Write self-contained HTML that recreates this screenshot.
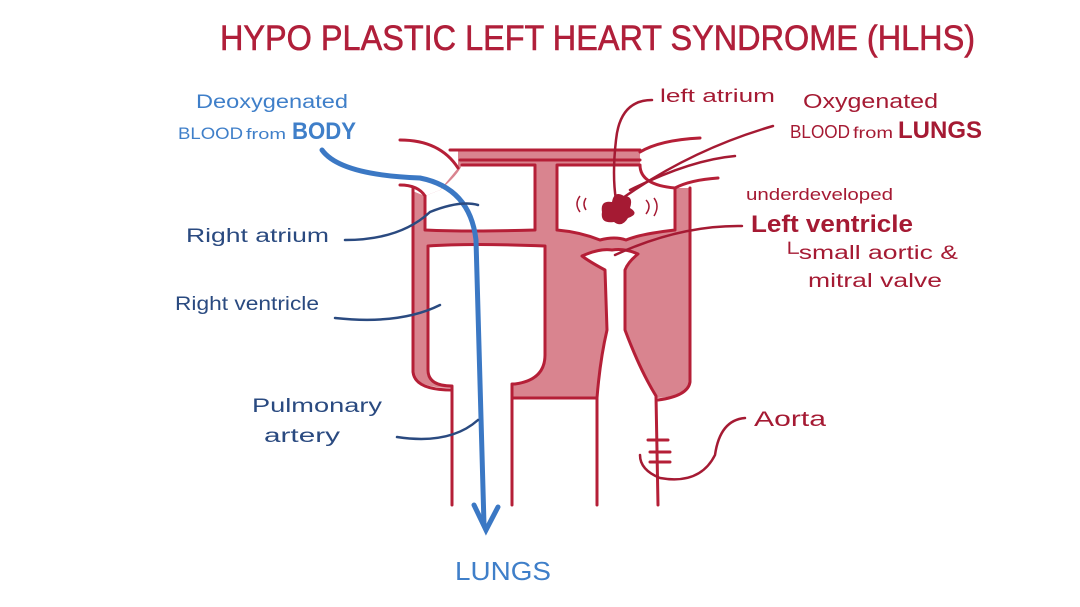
<!DOCTYPE html>
<html><head><meta charset="utf-8"><style>
html,body{margin:0;padding:0;background:#fff;}
svg{display:block;}
text{font-family:"Liberation Sans",sans-serif;}
</style></head><body>
<svg width="1080" height="607" viewBox="0 0 1080 607" xmlns="http://www.w3.org/2000/svg">
<rect width="1080" height="607" fill="#fff"/>
<text x="220" y="50" font-size="35" fill="#b01f3a" stroke="#b01f3a" stroke-width="0.6" textLength="755" lengthAdjust="spacingAndGlyphs">HYPO PLASTIC LEFT HEART SYNDROME (HLHS)</text>

<path d="M413 188 H425 L458 165 L458 150 H640 V188 H690 V382 Q690 396 656 398 L597 398 L512 398 L512 388 L452 388 Q413 388 413 370 Z" fill="#d9848f"/>
<g fill="#fff" stroke="none">
  <path d="M425 196 L425 230 Q470 232 535 230 L535 165 L462 165 Q458 175 440 190 Z"/>
  <path d="M557 165 L640 165 Q640 185 675 188 L675 230 Q640 234 626 240 Q615 236 600 240 Q580 232 557 230 Z"/>
  <path d="M428 246 Q470 243 545 246 L545 355 Q545 380 515 384 L512 384 L512 400 L452 400 L452 386 Q428 386 428 370 Z"/>
  <path d="M597 400 Q600 360 607 330 L605 270 Q590 262 582 256 Q600 248 612 250 Q625 248 638 254 Q628 262 625 270 L625 330 Q640 370 656 396 L658 400 Z"/>
  <path d="M400 141 L400 186 L425 196 L440 190 L458 168 Z"/>
</g>
<g fill="none" stroke="#b51f37" stroke-width="3" stroke-linecap="round" stroke-linejoin="round">
  <path d="M425 196 L425 230 Q470 232 535 230 L535 165 L462 165"/>
  <path d="M557 230 L557 165 L640 165 Q640 185 675 188 L675 230 Q640 234 626 240 Q615 236 600 240 Q580 232 557 230"/>
  <path d="M452 505 L452 386 Q428 386 428 370 L428 246 Q470 243 545 246 L545 355 Q545 380 515 384 L512 384 L512 505"/>
  <path d="M597 505 L597 398 Q600 360 607 330 L605 270 Q590 262 582 256 Q600 248 612 250 Q625 248 638 254 Q628 262 625 270 L625 330 Q640 370 656 396 L658 505"/>
  <path d="M413 188 L413 372 Q415 390 452 390"/>
  <path d="M512 398 L597 398"/>
  <path d="M690 188 L690 382 Q688 396 658 400"/>
  <path d="M450 150 L640 150"/>
  <path d="M400 140 Q440 140 458 168"/>
  <path d="M400 185 Q418 185 425 196"/>
  <path d="M640 152 Q660 140 700 138"/>
  <path d="M675 188 Q690 180 718 178"/>
  <path d="M460 160 L640 160"/>
  <path d="M648 440 L668 440 M650 452 L670 452 M650 462 L670 462"/>
</g>
<path d="M602 212 Q600 200 612 202 Q614 190 624 196 Q634 196 630 208 Q640 214 628 218 Q622 228 614 222 Q600 224 602 212 Z" fill="#a51a33"/>
<g fill="none" stroke="#a51a33" stroke-width="1.5">
  <path d="M580 196 Q574 204 580 212"/><path d="M586 198 Q582 204 586 210"/>
  <path d="M646 200 Q652 206 646 214"/><path d="M654 198 Q660 206 654 216"/>
</g>

<g fill="none" stroke="#3b78c4" stroke-width="5" stroke-linecap="round">
  <path d="M322 150 Q340 175 420 178 Q470 188 476 240 L484 525"/>
  <path d="M474 505 L486 530 L498 507"/>
</g>

<g fill="none" stroke="#2a4a80" stroke-width="2.5" stroke-linecap="round">
  <path d="M345 240 Q400 240 430 212 Q460 200 478 205"/>
  <path d="M335 318 Q400 325 440 305"/>
  <path d="M397 437 Q450 445 478 420"/>
</g>
<g fill="none" stroke="#a51a33" stroke-width="2.5" stroke-linecap="round">
  <path d="M652 100 Q620 100 616 140 Q612 175 616 200"/>
  <path d="M773 126 Q690 150 620 200"/>
  <path d="M735 156 Q690 160 630 190"/>
  <path d="M742 226 Q680 225 615 255"/>
  <path d="M745 418 Q720 420 715 455 Q700 485 660 478 Q640 470 640 455"/>
</g>

<g fill="#3f7fc9" font-size="19">
  <text x="196" y="108" textLength="152" lengthAdjust="spacingAndGlyphs">Deoxygenated</text>
  <text x="178" y="139" font-size="17" textLength="65" lengthAdjust="spacingAndGlyphs">BLOOD</text>
  <text x="246" y="139" font-size="15" textLength="40" lengthAdjust="spacingAndGlyphs">from</text>
  <text x="292" y="139" font-size="24" font-weight="bold" textLength="64" lengthAdjust="spacingAndGlyphs">BODY</text>
  <text x="455" y="580" font-size="26" textLength="96" lengthAdjust="spacingAndGlyphs">LUNGS</text>
</g>
<g fill="#2a4a80" font-size="19">
  <text x="186" y="242" textLength="143" lengthAdjust="spacingAndGlyphs">Right atrium</text>
  <text x="175" y="310" textLength="144" lengthAdjust="spacingAndGlyphs">Right ventricle</text>
  <text x="252" y="412" textLength="130" lengthAdjust="spacingAndGlyphs">Pulmonary</text>
  <text x="264" y="442" textLength="76" lengthAdjust="spacingAndGlyphs">artery</text>
</g>
<g fill="#a51a33">
  <text x="660" y="102" font-size="18" textLength="115" lengthAdjust="spacingAndGlyphs">left atrium</text>
  <text x="803" y="108" font-size="20" textLength="135" lengthAdjust="spacingAndGlyphs">Oxygenated</text>
  <text x="790" y="138" font-size="18" textLength="60" lengthAdjust="spacingAndGlyphs">BLOOD</text>
  <text x="853" y="138" font-size="16" textLength="40" lengthAdjust="spacingAndGlyphs">from</text>
  <text x="898" y="138" font-size="24" font-weight="bold" textLength="84" lengthAdjust="spacingAndGlyphs">LUNGS</text>
  <text x="746" y="200" font-size="17" textLength="147" lengthAdjust="spacingAndGlyphs">underdeveloped</text>
  <text x="751" y="232" font-size="24" font-weight="bold" textLength="162" lengthAdjust="spacingAndGlyphs">Left ventricle</text>
  <text x="780" y="259" font-size="19" textLength="178" lengthAdjust="spacingAndGlyphs">└small aortic &amp;</text>
  <text x="808" y="287" font-size="19" textLength="134" lengthAdjust="spacingAndGlyphs">mitral valve</text>
  <text x="754" y="426" font-size="21" textLength="72" lengthAdjust="spacingAndGlyphs">Aorta</text>
</g>
</svg>
</body></html>
